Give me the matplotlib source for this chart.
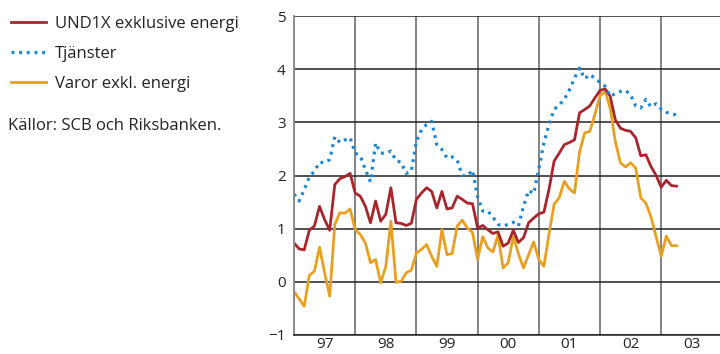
import numpy as np
import matplotlib
matplotlib.use('Agg')
import matplotlib.pyplot as plt

# Monthly values, Jan 1997 - Apr 2003 (annual percentage change)
und1x = [0.73, 0.62, 0.60, 0.97, 1.05, 1.42, 1.17, 0.97, 1.83, 1.94, 1.98, 2.04,
         1.67, 1.61, 1.42, 1.11, 1.52, 1.14, 1.27, 1.77, 1.11, 1.10, 1.06, 1.10,
         1.55, 1.67, 1.77, 1.70, 1.39, 1.70, 1.37, 1.39, 1.61, 1.55, 1.48, 1.47,
         1.01, 1.06, 0.98, 0.91, 0.94, 0.67, 0.73, 0.97, 0.74, 0.83, 1.11, 1.20,
         1.28, 1.31, 1.74, 2.27, 2.42, 2.58, 2.62, 2.67, 3.18, 3.24, 3.31, 3.46,
         3.60, 3.63, 3.49, 3.05, 2.89, 2.85, 2.83, 2.71, 2.37, 2.39, 2.17, 2.00,
         1.78, 1.91, 1.81, 1.80]
tjanster = [1.65, 1.52, 1.73, 1.97, 2.08, 2.25, 2.24, 2.30, 2.73, 2.62, 2.67, 2.71,
            2.42, 2.37, 2.11, 1.88, 2.61, 2.42, 2.42, 2.46, 2.28, 2.25, 2.04, 2.08,
            2.64, 2.86, 2.96, 3.02, 2.58, 2.49, 2.33, 2.35, 2.29, 2.00, 2.00, 2.10,
            1.60, 1.33, 1.33, 1.22, 1.08, 1.05, 1.08, 1.12, 1.05, 1.42, 1.72, 1.66,
            2.12, 2.61, 2.96, 3.24, 3.33, 3.43, 3.61, 3.83, 4.02, 3.82, 3.90, 3.83,
            3.75, 3.68, 3.49, 3.54, 3.58, 3.60, 3.52, 3.31, 3.27, 3.43, 3.29, 3.35,
            3.25, 3.19, 3.16, 3.14]
varor = [-0.18, -0.32, -0.46, 0.12, 0.20, 0.65, 0.17, -0.27, 1.08, 1.30, 1.29, 1.37,
         0.98, 0.89, 0.73, 0.36, 0.42, -0.02, 0.29, 1.14, -0.01, 0.01, 0.17, 0.22,
         0.54, 0.61, 0.70, 0.48, 0.29, 0.98, 0.51, 0.53, 1.05, 1.16, 1.01, 0.93,
         0.42, 0.85, 0.64, 0.56, 0.88, 0.26, 0.36, 0.85, 0.53, 0.26, 0.51, 0.75,
         0.42, 0.29, 0.90, 1.46, 1.58, 1.89, 1.75, 1.67, 2.45, 2.80, 2.83, 3.15,
         3.50, 3.58, 3.27, 2.64, 2.24, 2.16, 2.24, 2.14, 1.58, 1.48, 1.22, 0.85,
         0.48, 0.86, 0.68, 0.68]
year_labels = ['97', '98', '99', '00', '01', '02', '03']
labels = ['UND1X exklusive energi', 'Tjänster', 'Varor exkl. energi']
source = 'Källor: SCB och Riksbanken.'

plt.rcParams['font.family'] = ['Open Sans', 'DejaVu Sans']

fig = plt.figure(figsize=(7.2, 3.54), dpi=100)
ax = fig.add_axes([294 / 720, 19 / 354, 428.4 / 720, 319 / 354])

months = np.arange(len(und1x))
h_var, = ax.plot(months, varor, color='#E8A023', lw=2.0, label=labels[2],
                 solid_joinstyle='round')
h_und, = ax.plot(months, und1x, color='#A7262D', lw=2.0, label=labels[0],
                 solid_joinstyle='round')
h_tja, = ax.plot(months, tjanster, color='#1B86CF', lw=2.3, label=labels[1],
                 linestyle=(0, (0.9, 1.5)))

n_years = len(year_labels)
ax.set_xlim(0, 12 * n_years)
ax.set_ylim(-1, 5)
ax.set_xticks(np.arange(0, 12 * n_years + 1, 12))
ax.set_xticklabels([])
ax.set_xticks(np.arange(6, 12 * n_years, 12), minor=True)
ax.set_xticklabels(year_labels, minor=True)
ax.set_yticks(np.arange(-1, 6, 1))
ax.tick_params(which='both', length=0, labelsize=11, colors='#222222')
ax.tick_params(axis='x', which='minor', pad=1.5)
ax.tick_params(axis='y', pad=6)

ax.grid(axis='x', which='major', color='#777777', lw=1.3)
ax.grid(axis='y', color='#222222', lw=1.1)
ax.set_axisbelow(True)
for side in ['top', 'right']:
    ax.spines[side].set_visible(False)
ax.spines['left'].set_color('#888888')
ax.spines['left'].set_linewidth(1.3)
ax.spines['bottom'].set_color('#222222')
ax.spines['bottom'].set_linewidth(1.1)

fig.legend(handles=[h_und, h_tja, h_var], loc='upper left',
           bbox_to_anchor=(0.0, 1 - 5 / 354), frameon=False, fontsize=12,
           handlelength=2.1, handletextpad=0.55, labelspacing=0.85,
           borderaxespad=0.3, borderpad=0.35, labelcolor='#222222')
fig.text(8 / 720, 1 - 126 / 354, source, fontsize=12, color='#222222',
         ha='left', va='center')

fig.savefig('out.png', dpi=100)
